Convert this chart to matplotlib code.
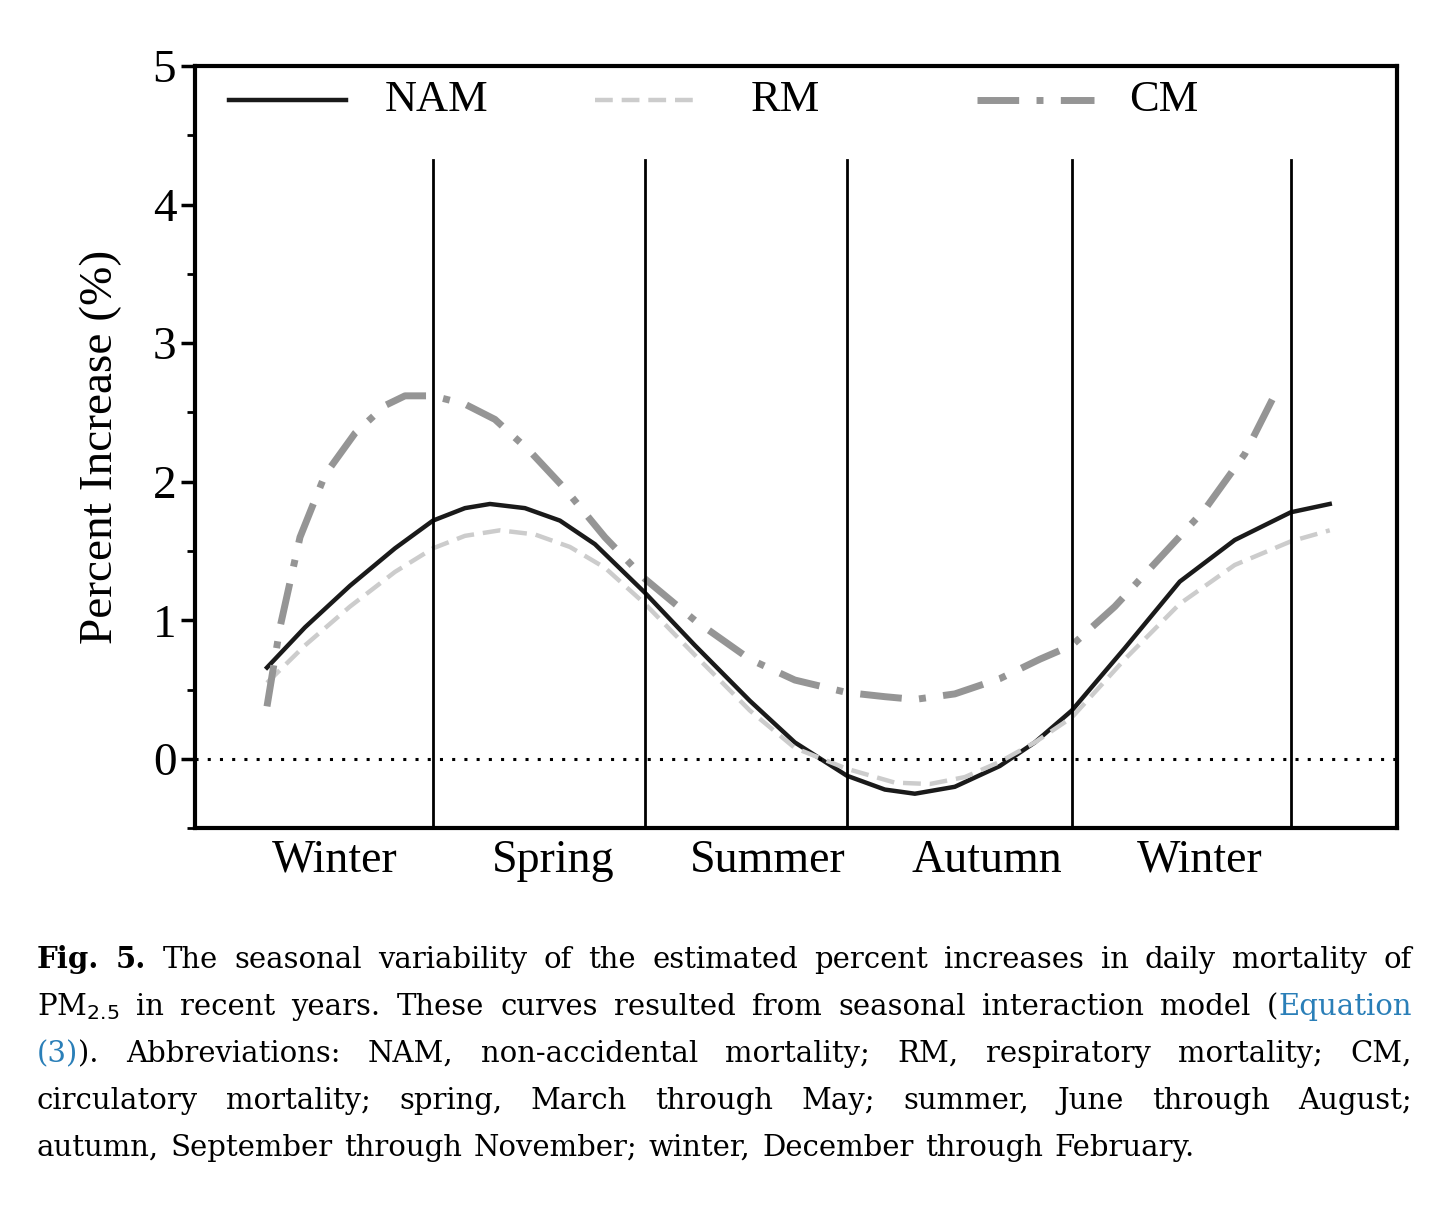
import matplotlib
matplotlib.use("Agg")
import matplotlib.pyplot as plt

# x is position along the season axis (0 = left spine, 1202 = right spine)
nam_x = [72, 110, 155, 200, 238, 270, 295, 330, 365, 400, 450, 500, 555, 600, 652, 690, 720, 760, 805, 840, 877, 930, 985, 1040, 1096, 1135]
nam_y = [0.66, 0.95, 1.25, 1.52, 1.72, 1.81, 1.84, 1.81, 1.72, 1.55, 1.20, 0.82, 0.42, 0.12, -0.12, -0.22, -0.25, -0.20, -0.05, 0.12, 0.35, 0.80, 1.28, 1.58, 1.78, 1.84]
rm_x = [72, 110, 155, 200, 238, 270, 305, 340, 375, 410, 450, 500, 555, 600, 652, 700, 735, 770, 805, 840, 877, 930, 985, 1040, 1096, 1135]
rm_y = [0.55, 0.82, 1.10, 1.35, 1.52, 1.61, 1.65, 1.62, 1.53, 1.38, 1.12, 0.75, 0.35, 0.08, -0.07, -0.17, -0.18, -0.13, -0.02, 0.12, 0.30, 0.72, 1.12, 1.40, 1.57, 1.65]
cm_x = [72, 85, 105, 130, 160, 190, 210, 238, 270, 300, 335, 370, 410, 450, 500, 555, 600, 652, 690, 720, 760, 805, 845, 877, 920, 965, 1010, 1050, 1085]
cm_y = [0.38, 0.95, 1.60, 2.05, 2.35, 2.55, 2.62, 2.62, 2.56, 2.45, 2.22, 1.95, 1.60, 1.30, 1.00, 0.72, 0.57, 0.48, 0.45, 0.43, 0.47, 0.58, 0.72, 0.82, 1.10, 1.45, 1.80, 2.20, 2.70]
season_bounds = [238, 450, 652, 877, 1096]
season_x = [140, 358, 573, 792, 1005]
seasons = ["Winter", "Spring", "Summer", "Autumn", "Winter"]

serif = "Liberation Serif"
fig = plt.figure(figsize=(14.34, 12.2), dpi=100)
ax = fig.add_axes([0.136, 0.321, 0.838, 0.625])

styles = [
    ("NAM", nam_x, nam_y, dict(color="#1a1a1a", lw=3.2)),
    ("RM", rm_x, rm_y, dict(color="#cccccc", lw=3.2, ls=(0, (4, 2)))),
    ("CM", cm_x, cm_y, dict(color="#959595", lw=5, ls=(0, (6, 2.5, 1, 2.5)))),
]
for name, xs, ys, st in styles:
    ax.plot(xs, ys, **st)
for b in season_bounds:
    ax.plot([b, b], [-0.5, 4.32], color="black", lw=2)
ax.axhline(0, color="black", lw=2.2, ls=(0, (1, 3)))

# legend drawn by hand across the top
leg_handle = [(0.028, 0.126), (0.333, 0.420), (0.651, 0.748)]
leg_text = [0.158, 0.462, 0.777]
for (name, _, _, st), (h0, h1), tx in zip(styles, leg_handle, leg_text):
    ax.plot([h0, h1], [0.955, 0.955], transform=ax.transAxes, **st)
    ax.text(tx, 0.955, name, transform=ax.transAxes, va="center", fontsize=32, family=serif)

ax.set_xlim(0, 1202)
ax.set_ylim(-0.5, 5)
ax.set_yticks([0, 1, 2, 3, 4, 5])
ax.set_yticks([-0.5, 0.5, 1.5, 2.5, 3.5, 4.5], minor=True)
ax.set_xticks([])
ax.tick_params(axis="y", which="major", length=10, width=2.5, labelsize=34)
ax.tick_params(axis="y", which="minor", length=6, width=2)
for lab in ax.get_yticklabels():
    lab.set_fontfamily(serif)
for s in ax.spines.values():
    s.set_linewidth(3)
ax.set_ylabel("Percent Increase (%)", fontsize=34, family=serif, labelpad=22)
for sx, name in zip(season_x, seasons):
    ax.text(sx, -0.58, name, ha="center", va="top", fontsize=33, family=serif)

# caption, drawn word by word and justified
caption = [
    [("Fig. 5.", "black", "bold"), ("The seasonal variability of the estimated percent increases in daily mortality of", "black", "normal")],
    [("PM$_{2.5}$ in recent years. These curves resulted from seasonal interaction model (", "black", "normal"), ("Equation", "#2a7fb8", "normal")],
    [("(3)", "#2a7fb8", "normal"), (").  Abbreviations:  NAM,  non-accidental  mortality;  RM,  respiratory  mortality;  CM,", "black", "normal")],
    [("circulatory mortality; spring, March through May; summer, June through August;", "black", "normal")],
    [("autumn, September through November; winter, December through February.", "black", "last")],
]
fig.canvas.draw()
r = fig.canvas.get_renderer()
x0, x1 = 37 / 1434, 1412 / 1434
for i, segs in enumerate(caption):
    y = 1 - (960 + 47 * i) / 1220
    words = []
    for text, col, wt in segs:
        parts = text.split()
        for j, p in enumerate(parts):
            glue = j == 0 and words and not text.startswith(" ") and not words[-1][3]
            words.append([p, col, "bold" if wt == "bold" else "normal", text.endswith(" ") or j < len(parts) - 1 or wt == "bold", glue])
    arts = []
    for w, col, wt, _, _ in words:
        t = fig.text(0, y, w, color=col, weight=wt, fontsize=21, family="DejaVu Serif", va="center")
        arts.append(t)
    widths = [a.get_window_extent(r).width / fig.bbox.width for a in arts]
    ngaps = sum(1 for w in words[1:] if not w[4])
    last = segs[-1][2] == "last"
    gap = 0.008 if last or ngaps == 0 else (x1 - x0 - sum(widths)) / ngaps
    x = x0
    for k, a in enumerate(arts):
        if k > 0 and not words[k][4]:
            x += gap
        a.set_x(x)
        x += widths[k]

fig.savefig("out.png", dpi=100)
